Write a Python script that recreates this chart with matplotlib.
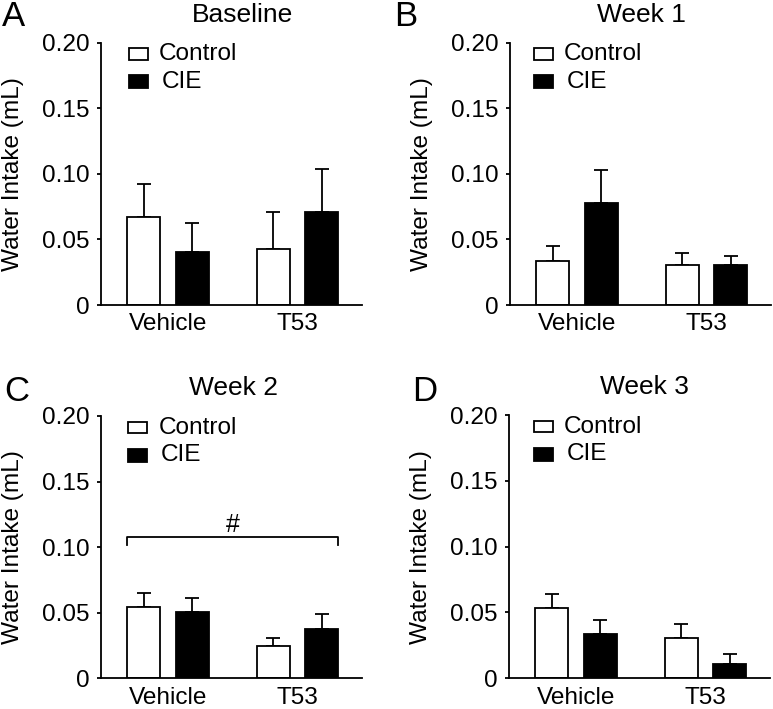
import numpy as np
import matplotlib
matplotlib.use("Agg")
import matplotlib.pyplot as plt
from matplotlib.patches import Rectangle

plt.rcParams["font.family"] = ["Liberation Sans", "DejaVu Sans"]

groups = ["Vehicle", "T53"]
titles = ["Baseline", "Week 1", "Week 2", "Week 3"]
letters = ["A", "B", "C", "D"]

# means and upper SEM
control_mean = [[0.0673, 0.0424], [0.0338, 0.0307], [0.0541, 0.0249], [0.0531, 0.0305]]
control_sem = [[0.0253, 0.0284], [0.0111, 0.0086], [0.0109, 0.0061], [0.0107, 0.0109]]
cie_mean = [[0.0404, 0.0708], [0.0774, 0.0302], [0.0508, 0.0374], [0.0335, 0.0112]]
cie_sem = [[0.0220, 0.0328], [0.0254, 0.0074], [0.0107, 0.0116], [0.0107, 0.0073]]

yticks = [0, 0.05, 0.10, 0.15, 0.20]
ytick_labels = ["0", "0.05", "0.10", "0.15", "0.20"]

W, H = 773, 709
fig = plt.figure(figsize=(W / 100, H / 100), dpi=100)

# axes boxes in pixels: left, top, right, bottom
boxes = [(101, 42.7, 362, 305), (510, 42.7, 771, 305),
         (101, 416, 362, 678.3), (509, 415, 770, 678.3)]
title_x = [0.544, 0.502, 0.507, 0.518]
legend_x = [0.108, 0.092, 0.105, 0.096]
letter_pos = [(2, 26), (394, 26), (4, 401), (412, 401)]

x = np.arange(len(groups))
off = 0.1866
bw = 0.255
lw = 1.3
fs = 17.6

for i in range(4):
    l, t, r, b = boxes[i]
    ax = fig.add_axes([l / W, 1 - b / H, (r - l) / W, (b - t) / H])

    ax.errorbar(x - off, control_mean[i], yerr=[[0, 0], control_sem[i]], fmt="none",
                ecolor="black", elinewidth=lw, capsize=5, capthick=lw, zorder=1)
    ax.errorbar(x + off, cie_mean[i], yerr=[[0, 0], cie_sem[i]], fmt="none",
                ecolor="black", elinewidth=lw, capsize=5, capthick=lw, zorder=1)
    ax.bar(x - off, control_mean[i], bw, color="white", edgecolor="black", linewidth=lw, zorder=2)
    ax.bar(x + off, cie_mean[i], bw, color="black", edgecolor="black", linewidth=lw, zorder=2)

    ax.set_xlim(-0.517, 1.498)
    ax.set_ylim(0, 0.2)
    ax.set_xticks(x)
    ax.set_xticklabels(groups, fontsize=fs)
    ax.set_yticks(yticks)
    ax.set_yticklabels(ytick_labels, fontsize=fs)
    ax.tick_params(axis="x", length=0, pad=6)
    ax.tick_params(axis="y", length=3, width=lw, pad=5, direction="out")
    for s in ["top", "right"]:
        ax.spines[s].set_visible(False)
    for s in ["left", "bottom"]:
        ax.spines[s].set_linewidth(lw)

    ax.text(-0.338, 0.5, "Water Intake (mL)", transform=ax.transAxes, rotation=90,
            ha="center", va="center", fontsize=fs)
    ax.text(title_x[i], 1.080, titles[i], transform=ax.transAxes, ha="center",
            va="baseline", fontsize=19)

    # legend
    lx = legend_x[i]
    ax.add_patch(Rectangle((lx, 0.934), 0.073, 0.045, transform=ax.transAxes,
                           facecolor="white", edgecolor="black", linewidth=lw, clip_on=False))
    ax.add_patch(Rectangle((lx, 0.826), 0.073, 0.05, transform=ax.transAxes,
                           facecolor="black", edgecolor="black", linewidth=lw, clip_on=False))
    ax.text(lx + 0.115, 0.956, "Control", transform=ax.transAxes, ha="left",
            va="center", fontsize=fs)
    ax.text(lx + 0.125, 0.851, "CIE", transform=ax.transAxes, ha="left",
            va="center", fontsize=fs)

    if i == 2:
        x0 = x[0] - off - bw / 2
        x1 = x[1] + off + bw / 2
        ax.plot([x0, x0, x1, x1], [0.1016, 0.108, 0.108, 0.1016], color="black",
                linewidth=lw, clip_on=False)
        ax.text((x0 + x1) / 2, 0.117, "#", ha="center", va="center", fontsize=18)

    px, py = letter_pos[i]
    fig.text(px / W, 1 - py / H, letters[i], ha="left", va="baseline", fontsize=25)

fig.savefig("out.png", dpi=100)
